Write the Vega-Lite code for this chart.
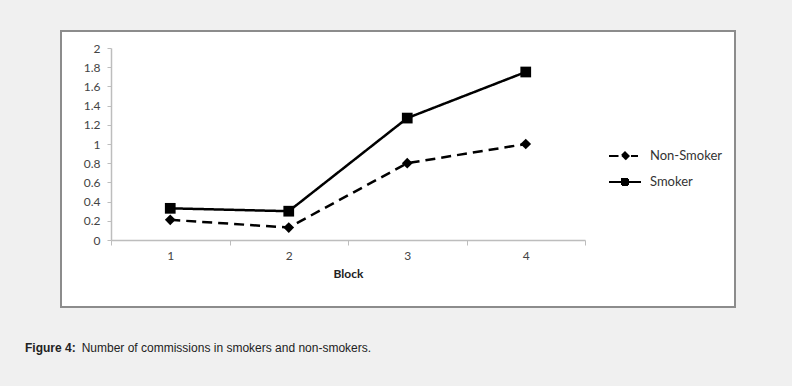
{
  "$schema": "https://vega.github.io/schema/vega-lite/v6.json",
  "width": 674,
  "height": 276,
  "autosize": {"type": "none"},
  "padding": {"left": 61, "top": 31, "right": 57, "bottom": 79},
  "background": "#f0f0f0",
  "view": {"fill": "white", "stroke": "#8c8c8c", "strokeWidth": 2},
  "config": {"font": "Lato"},
  "title": {
    "text": "Figure 4:",
    "subtitle": "\u200b\u00a0\u00a0\u00a0\u00a0\u00a0\u00a0\u00a0\u00a0\u00a0\u00a0\u00a0\u00a0\u00a0\u00a0\u00a0\u00a0\u00a0Number of commissions in smokers and non-smokers.",
    "orient": "bottom",
    "anchor": "start",
    "frame": "group",
    "dx": -36,
    "offset": 36,
    "font": "Liberation Sans",
    "fontSize": 12,
    "fontWeight": "bold",
    "color": "#222222",
    "subtitleFont": "Liberation Sans",
    "subtitleFontSize": 12,
    "subtitleColor": "#222222",
    "subtitlePadding": -12
  },
  "data": {
    "values": [
      {"block": "1", "group": "Non-Smoker", "value": 0.21},
      {"block": "2", "group": "Non-Smoker", "value": 0.13},
      {"block": "3", "group": "Non-Smoker", "value": 0.80},
      {"block": "4", "group": "Non-Smoker", "value": 1.00},
      {"block": "1", "group": "Smoker", "value": 0.33},
      {"block": "2", "group": "Smoker", "value": 0.30},
      {"block": "3", "group": "Smoker", "value": 1.27},
      {"block": "4", "group": "Smoker", "value": 1.75}
    ]
  },
  "encoding": {
    "x": {
      "field": "block",
      "type": "ordinal",
      "bandPosition": 0.5,
      "scale": {"type": "band", "domain": ["1", "2", "3", "4"], "range": [50, 524], "paddingInner": 0, "paddingOuter": 0},
      "axis": {
        "offset": -67,
        "title": "Block",
        "titleFont": "Lato",
        "titleFontWeight": "bold",
        "titleFontSize": 12,
        "titleColor": "#222222",
        "titlePadding": 7,
        "labelAngle": 0,
        "labelFont": "Lato",
        "labelFontSize": 12,
        "labelColor": "#444444",
        "labelPadding": 5,
        "domainColor": "#bdbdbd",
        "domainWidth": 1.5,
        "tickColor": "#bdbdbd",
        "tickWidth": 1,
        "tickSize": 5,
        "tickBand": "extent",
        "grid": false
      }
    },
    "y": {
      "field": "value",
      "type": "quantitative",
      "scale": {"domain": [0, 2], "range": [209, 17], "nice": false, "zero": false},
      "axis": {
        "offset": -50,
        "title": null,
        "values": [0, 0.2, 0.4, 0.6, 0.8, 1, 1.2, 1.4, 1.6, 1.8, 2],
        "format": "~g",
        "labelFont": "Lato",
        "labelFontSize": 12,
        "labelColor": "#444444",
        "labelPadding": 7,
        "domainColor": "#bdbdbd",
        "domainWidth": 1.5,
        "tickColor": "#bdbdbd",
        "tickSize": 4,
        "grid": false
      }
    }
  },
  "layer": [
    {
      "mark": {"type": "line", "color": "black", "strokeWidth": 2.5},
      "encoding": {
        "strokeDash": {
          "field": "group",
          "type": "nominal",
          "scale": {"domain": ["Non-Smoker", "Smoker"], "range": [[10, 6], [1, 0]]},
          "legend": {
            "orient": "none",
            "legendX": 553,
            "legendY": 114,
            "title": null,
            "padding": 0,
            "symbolSize": 400,
            "rowPadding": 7,
            "labelOffset": 14,
            "labelFont": "Lato",
            "labelFontSize": 13,
            "labelColor": "#333333",
            "symbolStrokeWidth": 2,
            "symbolFillColor": "black",
            "symbolStrokeColor": "black",
            "encode": {
              "symbols": {
                "update": {
                  "shape": {"signal": "datum.value === 'Smoker' ? 'M-1.6,0H1.6M-0.3,-0.3H0.3V0.3H-0.3Z' : 'M-1.6,0H-0.65M0.6,0H1.3M0,-0.36L0.36,0L0,0.36L-0.36,0Z'"},
                  "fill": {"value": "black"},
                  "stroke": {"value": "black"},
                  "strokeWidth": {"value": 2},
                  "strokeDash": {"value": [1, 0]},
                  "opacity": {"value": 1}
                }
              }
            }
          }
        }
      }
    },
    {
      "mark": {"type": "point", "filled": true, "color": "black", "opacity": 1, "size": 115},
      "encoding": {
        "detail": {"field": "group", "type": "nominal"},
        "shape": {
          "condition": {"test": "datum.group === 'Smoker'", "value": "square"},
          "value": "diamond"
        }
      }
    }
  ]
}
